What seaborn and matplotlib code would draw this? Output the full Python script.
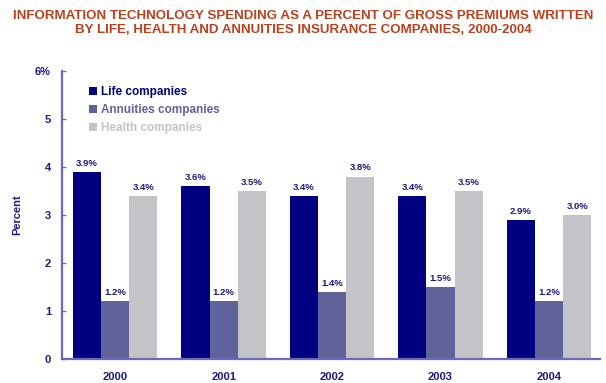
import matplotlib
matplotlib.use("Agg")
import matplotlib.pyplot as plt
import seaborn as sns
import pandas as pd

years = ["2000", "2001", "2002", "2003", "2004"]
series_names = ["Life companies", "Annuities companies", "Health companies"]
life = [3.9, 3.6, 3.4, 3.4, 2.9]
annuities = [1.2, 1.2, 1.4, 1.5, 1.2]
health = [3.4, 3.5, 3.8, 3.5, 3.0]
yticks = [0, 1, 2, 3, 4, 5, 6]
ytick_labels = ["0", "1", "2", "3", "4", "5", "6%"]

colors = ["#000080", "#5F6399", "#C4C4C8"]
navy = "#1A1A80"

rows = []
for name, vals in zip(series_names, [life, annuities, health]):
    for y, v in zip(years, vals):
        rows.append({"Year": y, "Series": name, "Value": v})
df = pd.DataFrame(rows)

sns.set_theme(style="white")
plt.rcParams['font.family'] = ['Liberation Sans', 'DejaVu Sans']

fig = plt.figure(figsize=(6.06, 3.83), dpi=100)
ax = fig.add_axes([62/606, 1 - 359/383, (600 - 62)/606, (359 - 71)/383])

sns.barplot(data=df, x="Year", y="Value", hue="Series", palette=colors,
            width=0.78, ax=ax, saturation=1, legend=True, linewidth=0)

ax.set_ylim(0, 6)
ax.set_xlim(-0.49, 4.47)
ax.set_yticks(yticks)
ax.set_yticklabels(ytick_labels)
for lbl in ax.get_yticklabels():
    lbl.set_fontweight("bold"); lbl.set_color(navy); lbl.set_fontsize(8)
for lbl in ax.get_xticklabels():
    lbl.set_fontweight("bold"); lbl.set_color(navy); lbl.set_fontsize(8)
ax.tick_params(axis="y", which="both", direction="in", length=3, width=1, color="#7070B8", pad=8, left=True)
ax.tick_params(axis="x", bottom=False, length=0, pad=9)
ax.set_xlabel("")
ax.set_ylabel("Percent", fontweight="bold", color=navy, fontsize=8, labelpad=9)

for s in ["top", "right"]:
    ax.spines[s].set_visible(False)
for s in ["left", "bottom"]:
    ax.spines[s].set_color("#6A6AB8")
    ax.spines[s].set_linewidth(1.6)

for cont in ax.containers:
    labels = [f"{b.get_height():.1f}%" for b in cont]
    ax.bar_label(cont, labels=labels, padding=3, fontsize=6.8, fontweight="bold",
                 color=navy, bbox=dict(facecolor="white", edgecolor="none", pad=0.5))

leg = ax.legend(loc="upper left", bbox_to_anchor=(0.035, 0.975), frameon=False,
                fontsize=8.5, handlelength=0.7, handleheight=0.7, handletextpad=0.3,
                labelspacing=0.5, borderaxespad=0.3)
for txt, c in zip(leg.get_texts(), ["#000080", "#5F6399", "#C4C4C8"]):
    txt.set_color(c); txt.set_fontweight("bold")

fig.text(0.5, 1 - 10/383, "INFORMATION TECHNOLOGY SPENDING AS A PERCENT OF GROSS PREMIUMS WRITTEN\nBY LIFE, HEALTH AND ANNUITIES INSURANCE COMPANIES, 2000-2004",
         ha="center", va="top", fontsize=9.6, fontweight="bold", color="#B8421E",
         linespacing=1.2)

fig.savefig("out.png", dpi=100)
